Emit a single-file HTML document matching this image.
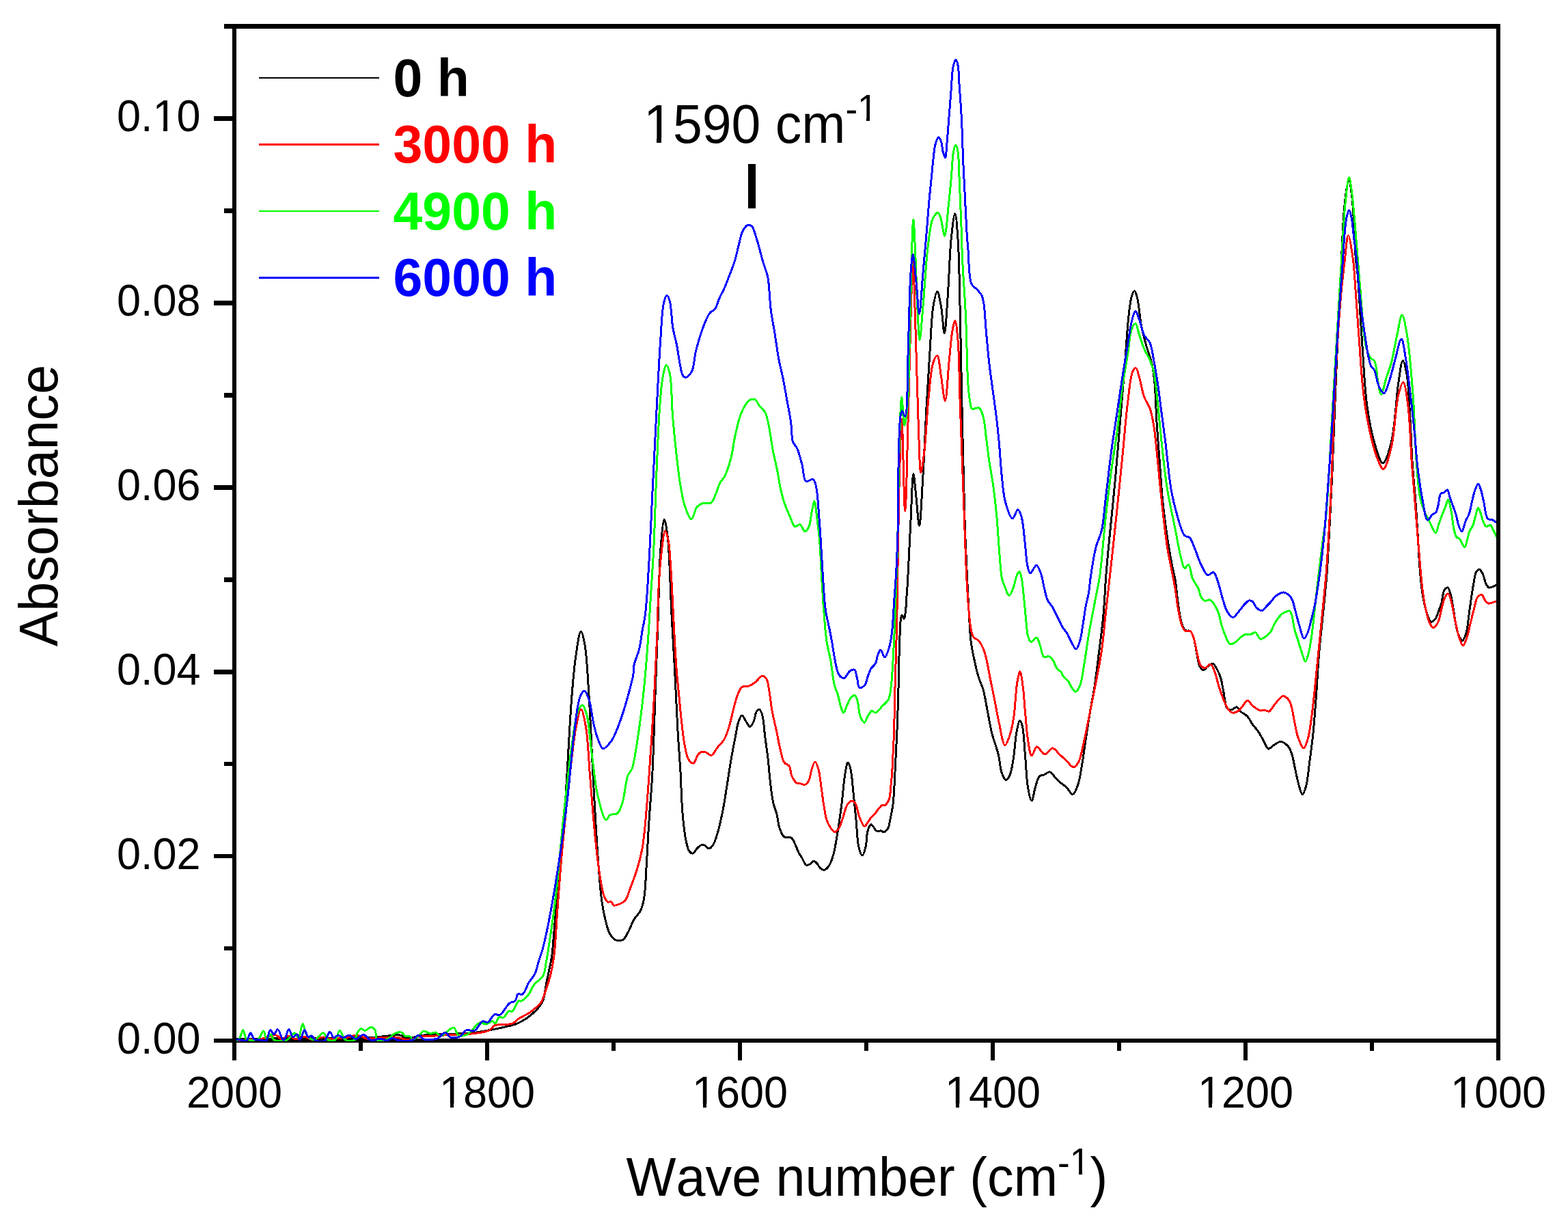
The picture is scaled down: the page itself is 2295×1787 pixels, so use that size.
<!DOCTYPE html>
<html><head><meta charset="utf-8"><title>FTIR Absorbance Spectra</title>
<style>html,body{margin:0;padding:0;background:#fff;}body{width:2295px;height:1787px;overflow:hidden;}svg{display:block;}text{font-family:'Liberation Sans', Arial, Helvetica, sans-serif;font-kerning:none;}</style>
</head><body>
<svg width="2295" height="1787" viewBox="0 0 2295 1787">
<rect x="0" y="0" width="2295" height="1787" fill="#fff"/>
<defs><clipPath id="pc"><rect x="346" y="42" width="1844" height="1482"/></clipPath></defs>
<g fill="#000" shape-rendering="crispEdges"><rect x="340" y="35" width="6" height="1491"/><rect x="2190" y="35" width="6" height="1491"/><rect x="328" y="35" width="1868" height="7"/><rect x="340" y="1520" width="1856" height="6"/><rect x="313" y="1519.8" width="27" height="6.5"/><rect x="328" y="1384.8" width="12" height="6.5"/><rect x="313" y="1249.8" width="27" height="6.5"/><rect x="328" y="1114.9" width="12" height="6.5"/><rect x="313" y="980" width="27" height="6.5"/><rect x="328" y="845" width="12" height="6.5"/><rect x="313" y="710.1" width="27" height="6.5"/><rect x="328" y="575.1" width="12" height="6.5"/><rect x="313" y="440.2" width="27" height="6.5"/><rect x="328" y="305.2" width="12" height="6.5"/><rect x="313" y="170.2" width="27" height="6.5"/><rect x="328" y="35.3" width="12" height="6.5"/><rect x="340" y="1526" width="6" height="26"/><rect x="525" y="1526" width="6" height="12"/><rect x="710" y="1526" width="6" height="26"/><rect x="895" y="1526" width="6" height="12"/><rect x="1080" y="1526" width="6" height="26"/><rect x="1265" y="1526" width="6" height="12"/><rect x="1450" y="1526" width="6" height="26"/><rect x="1635" y="1526" width="6" height="12"/><rect x="1820" y="1526" width="6" height="26"/><rect x="2005" y="1526" width="6" height="12"/><rect x="2190" y="1526" width="6" height="26"/></g>
<g font-size="63" fill="#000"><text id="yl0" transform="matrix(1 0 0 1.04 293.6 1541.8)" text-anchor="end">0.00</text><text id="yl2" transform="matrix(1 0 0 1.04 293.6 1271.9)" text-anchor="end">0.02</text><text id="yl4" transform="matrix(1 0 0 1.04 293.6 1002)" text-anchor="end">0.04</text><text id="yl6" transform="matrix(1 0 0 1.04 293.6 732.1)" text-anchor="end">0.06</text><text id="yl8" transform="matrix(1 0 0 1.04 293.6 462.2)" text-anchor="end">0.08</text><text id="yl10" transform="matrix(1 0 0 1.04 293.6 192.3)" text-anchor="end">0.10</text><text id="xl2000" transform="matrix(1 0 0 1.04 343 1621.2)" text-anchor="middle">2000</text><text id="xl1800" transform="matrix(1 0 0 1.04 713 1621.2)" text-anchor="middle">1800</text><text id="xl1600" transform="matrix(1 0 0 1.04 1083 1621.2)" text-anchor="middle">1600</text><text id="xl1400" transform="matrix(1 0 0 1.04 1453 1621.2)" text-anchor="middle">1400</text><text id="xl1200" transform="matrix(1 0 0 1.04 1823 1621.2)" text-anchor="middle">1200</text><text id="xl1000" transform="matrix(1 0 0 1.04 2193 1621.2)" text-anchor="middle">1000</text></g>
<text id="xt" transform="matrix(1.0043 0 0 1.04 916.5 1750)" font-size="77" fill="#000">Wave number (cm<tspan font-size="53" dy="-28.0769">-</tspan><tspan font-size="53" dy="-1.7308">1</tspan><tspan dy="29.8077">)</tspan></text>
<text id="yt" transform="translate(84.1 740) rotate(-90) scale(1.004 1.04)" text-anchor="middle" font-size="77" fill="#000">Absorbance</text>
<g clip-path="url(#pc)" fill="none" stroke-width="3" stroke-linejoin="round" stroke-linecap="round" shape-rendering="crispEdges"><path d="M346 1521C364 1520.7 382.3 1520.2 400 1520C417 1519.8 435.5 1520.2 450 1520C461.3 1519.9 468 1519.6 480 1519.3C498.2 1518.9 529.2 1518.9 548.7 1518C563.2 1517.3 579.1 1513.4 586.5 1515.2C589.9 1516 590.1 1518.7 593.3 1519.3C599.7 1520.6 615.6 1515.4 624.2 1514.5C630.3 1513.8 633.9 1513.7 640 1513.5C648.4 1513.2 661 1513.3 670 1513C677.3 1512.8 682.7 1512.8 690 1512C699 1511 711.2 1508.7 720 1507C727.1 1505.7 732.8 1504.5 739 1503C745.1 1501.5 750.9 1500.7 757 1498C764.2 1494.8 772.7 1489.5 779 1484C784.9 1478.8 790.6 1473 794 1466C797.6 1458.5 797.8 1448.3 799.5 1440C801.1 1432.4 802.6 1425 804 1418C805.3 1411.7 806.5 1407.8 807.6 1400C809.6 1385.9 811 1359.8 813 1340C815 1320.5 817.3 1304.7 819.4 1282C822.4 1249.7 825.2 1206 828 1164.7C831.1 1118.4 833.9 1055.6 837 1017.6C839 993.6 840.4 975.8 843 958.8C845 945.6 847.8 924.1 850.3 924C852.2 923.9 854.4 935.1 856 944C859 960.7 860.2 990.2 862 1017.6C864.3 1052.2 865.8 1095.8 868 1135C870.2 1174.3 872.5 1219.2 875 1253C876.9 1278.5 878.4 1302.1 881 1320C882.7 1332 884.8 1341.7 887 1350C888.6 1356.1 889.6 1361.1 892 1365.5C894 1369.3 896.9 1373.3 899.7 1375C901.7 1376.3 903.9 1376.5 906 1376.5C908.1 1376.5 910.3 1376.4 912.3 1375C915.2 1372.9 917.6 1367.4 920 1363C922.7 1358 924.5 1351.6 927.5 1346.5C930.4 1341.5 935.1 1337.8 937.6 1332.6C940.2 1327.3 941.3 1322.5 942.6 1315C944.8 1302.5 945.2 1281.9 946.4 1264C947.7 1244.1 948.6 1222.2 950 1201C951.4 1179.3 953.3 1160.2 954.7 1135C956.5 1101.5 957.6 1055.9 959 1017.6C960.4 981 961.7 945.9 963 910C964.3 874.1 964.7 830 967 802.4C968.4 785.1 970.5 760.4 972.4 760.3C974 760.3 976 775.3 977.4 787.6C980.3 812.3 981.2 867 983 900C984.4 926.1 985.8 947.6 987 970C988.1 990.8 989.1 1012 990 1030C990.7 1044.7 991.3 1057.6 992 1070C992.6 1080.7 993.3 1090 994 1100C994.7 1110 995.3 1118.3 996 1130C997 1146.6 997.4 1172 999 1190C1000.3 1204.7 1001.8 1219.7 1004 1230C1005.4 1236.6 1006.6 1243 1009 1246C1010.4 1247.8 1012.4 1249.3 1014 1249C1016.1 1248.7 1017.9 1244.1 1020 1242C1021.9 1240.1 1024 1237.7 1026 1237C1027.6 1236.4 1029.3 1236.5 1031 1237C1033.2 1237.7 1035.8 1242.2 1038 1242C1040.2 1241.8 1042.2 1238.7 1044 1236C1046.5 1232.1 1048.1 1226.4 1050 1220C1052.8 1210.8 1055.7 1197.5 1058 1186C1060.4 1174.2 1062 1162.2 1064 1150C1066 1137.5 1067.9 1124.1 1070 1112C1071.9 1100.9 1074 1089.9 1076 1080C1077.7 1071.4 1078.8 1062 1081 1056C1082.4 1052.1 1084.2 1047.1 1086 1047C1087.9 1046.9 1089.9 1053.2 1092 1056C1093.9 1058.7 1096.1 1063.7 1098 1063.6C1099.8 1063.5 1101.6 1059 1103 1056C1104.8 1052.1 1105.3 1045.1 1107 1042C1108.1 1040.1 1109.4 1037.9 1110.6 1038C1112 1038.1 1113.8 1040.9 1115 1044C1117.8 1050.8 1118.4 1068.5 1120 1080C1121.4 1090.5 1122.7 1099.3 1124 1110C1125.4 1122.4 1126.5 1138.1 1128 1150C1129.2 1159.6 1130.2 1168.4 1132 1176C1133.4 1182 1135.6 1186.3 1137 1192C1138.6 1198.3 1138.9 1206.2 1141 1212C1142.8 1216.9 1144.7 1222.8 1148 1225C1150.7 1226.8 1155.4 1224.3 1158 1226C1160.8 1227.8 1162.2 1232.4 1164 1236C1165.9 1239.8 1167.2 1244.5 1169 1248C1170.6 1251 1172.3 1253.2 1174 1256C1175.9 1259.1 1177.7 1265 1180 1266C1181.5 1266.7 1183.4 1265.8 1185 1265C1187 1264 1189.1 1260 1191 1260C1192.7 1260 1194.4 1262.4 1196 1264C1197.8 1265.9 1199 1269.5 1201 1271C1202.7 1272.3 1205.1 1273.5 1207 1273C1209.4 1272.4 1212 1269.1 1214 1266C1216.6 1262 1218.2 1256.3 1220 1250C1222.4 1241.2 1224.1 1229.4 1226 1218C1228.2 1205 1230.2 1190.2 1232 1176C1233.9 1161.5 1235 1143 1237 1132C1238.2 1125.3 1239.5 1116.1 1241 1116C1242.2 1115.9 1243.9 1121.6 1245 1126C1247 1133.9 1247.7 1148.2 1249 1160C1250.4 1172.8 1251.7 1186.7 1253 1200C1254.3 1213.3 1254.6 1230.7 1257 1240C1258.3 1245.3 1260.3 1252 1262 1252C1263.6 1252 1265.7 1244.7 1266.9 1240C1268.5 1234 1268.2 1224.3 1269.5 1218.7C1270.4 1214.8 1271.4 1211.3 1272.7 1209.2C1273.5 1207.9 1274.4 1206.6 1275.3 1206.6C1276.3 1206.6 1277.4 1208.9 1278.5 1210.3C1279.9 1212 1280.9 1215.1 1282.8 1216C1284.6 1216.9 1287.6 1215.6 1289.6 1216C1291.2 1216.3 1292.4 1218 1293.9 1217.7C1295.9 1217.3 1298.8 1213.8 1300.2 1211.3C1301.6 1208.8 1301.6 1205.9 1302.3 1202.9C1303 1199.6 1303.7 1196.2 1304.4 1192.3C1305.3 1187.5 1306.4 1182.1 1307.1 1176.4C1307.9 1169.9 1308.2 1163 1308.7 1155.2C1309.3 1145.7 1309.8 1134.1 1310.3 1123.5C1310.8 1112.9 1311.4 1102.3 1311.9 1091.7C1312.4 1081.1 1312.9 1072.4 1313.4 1060C1314.1 1042.6 1314.7 1017.7 1315.3 997C1315.8 977 1315.9 955.1 1316.7 938C1317.3 924.8 1317.5 907.7 1319 903C1319.4 901.7 1319.9 900.7 1320.4 900.7C1321.2 900.7 1322.5 905.9 1323.3 905.8C1324.4 905.6 1324.9 898.6 1325.5 894C1326.3 887.8 1326.5 878.9 1327 872C1327.4 866 1327.8 863 1328.3 855C1329.5 836.3 1331.5 789.7 1333 761C1334.3 736.7 1335.2 693.7 1336.9 693.6C1338.1 693.6 1339.6 716 1341 728C1342.5 741.2 1344.1 769.4 1345.5 769.4C1347.4 769.4 1349.3 721.6 1351 695C1352.9 664.5 1354.3 627.8 1356 596.4C1357.6 567.7 1359.2 539.9 1361 514C1362.6 490.8 1363.3 463.8 1366 448C1367.6 438.9 1369.9 426.8 1371.8 426.8C1373.7 426.8 1375.8 439.8 1377.4 448C1379.5 459.1 1380.8 487.7 1382.3 487.7C1384.1 487.7 1385.8 452.2 1387.3 431.8C1389.1 407 1389.9 371.4 1392.2 349.4C1393.8 334.6 1396.2 312.5 1397.8 312.5C1399.4 312.5 1400.9 333.7 1402 349.4C1404 377.1 1404.4 422.8 1405.4 464.7C1406.6 514.7 1407.5 577.6 1408.7 629.4C1409.7 675.7 1410.6 720.8 1412 761C1413.1 795 1414.7 828 1416 855C1417 875.4 1417.9 893.6 1418.9 908.8C1419.6 920 1419.8 928.3 1421 938C1422.2 947.7 1424.3 957.7 1426.3 967C1428.2 975.8 1430.3 984.8 1432.7 992.3C1434.6 998.5 1437.1 1002.4 1439 1009C1441.5 1017.9 1443.3 1030.4 1445.4 1041C1447.5 1051.6 1449.1 1062.2 1451.7 1072.7C1454.4 1083.3 1458.8 1094.1 1461.3 1104.4C1463.6 1113.9 1463.9 1125.4 1466.5 1132C1468.1 1136.2 1470.5 1141.4 1472.5 1141.5C1474.4 1141.6 1476.6 1137.5 1478.2 1134C1480.8 1128.2 1482 1117.9 1483.5 1108.7C1485.3 1097.8 1485.8 1082.6 1487.7 1072.7C1489.1 1065.6 1490.9 1054.9 1492.6 1054.7C1493.8 1054.6 1495.2 1058.4 1496.2 1062C1498.5 1070.2 1499 1089.8 1500.4 1104.4C1501.9 1120 1502.3 1140.6 1504.6 1153C1506 1160.9 1508.2 1172 1510 1172C1511.8 1172 1513.2 1159.1 1515.2 1153C1517.1 1147.1 1518.5 1138.8 1521.5 1136C1523.3 1134.3 1525.7 1134.9 1528 1134C1530.7 1132.9 1533.7 1129.4 1536.4 1129.8C1539.4 1130.3 1542.2 1135.7 1544.8 1138.3C1547 1140.6 1548.6 1142.5 1551 1144.6C1553.8 1147.1 1557.6 1149.1 1560.7 1152C1564 1155.1 1567.4 1162.9 1570.2 1162.6C1573.1 1162.3 1575.6 1154.4 1577.6 1149C1580.2 1142 1581.3 1133 1583 1123.5C1585.1 1111.6 1586.9 1096.9 1589 1083.3C1591.1 1069.4 1593.3 1054.5 1595.6 1041C1597.7 1028.5 1600 1017.9 1602 1005C1604.3 990 1606.2 973.1 1608.3 956.4C1610.5 938.8 1613 920.7 1614.8 902C1616.7 882 1617.4 859.9 1619 840C1620.5 821.6 1622 806.5 1623.9 786.7C1626.3 761.7 1629.7 730.2 1632.3 702C1634.9 673.8 1637.1 645.7 1639.4 617.5C1641.8 589.3 1644.2 559.7 1646.4 532.8C1648.4 508.2 1649.9 480.5 1652 462.3C1653.3 450.7 1654.2 440.5 1656.3 434C1657.5 430.3 1659.2 425.5 1660.5 425.6C1662 425.7 1663.5 432 1664.8 437C1667.1 446.1 1668.1 464.4 1670.4 476.4C1672.4 486.6 1674.8 495.2 1677.4 504.6C1680 514 1683.9 523.3 1686 532.8C1688.1 542.1 1688.9 550 1690 561C1691.5 576.6 1691.8 598.7 1693 617.5C1694.2 636.3 1695.8 655.2 1697.2 674C1698.6 692.8 1699.5 711.5 1701.4 730.3C1703.3 749.1 1705.9 769.2 1708.5 786.7C1710.8 802.1 1713.8 818.7 1716 830C1717.4 837.3 1718.8 841 1720 848C1721.6 857.6 1722.5 871.3 1724.2 882.3C1725.7 892.6 1727.1 904.7 1729.5 912C1731 916.5 1732.3 920.7 1734.8 922.5C1736.8 923.9 1740.2 922.1 1742.2 923.6C1744.8 925.5 1746 930.7 1747.5 935.2C1749.4 941.1 1750.2 949.5 1751.7 956.4C1753.1 962.9 1753.7 971.2 1756 975.4C1757.4 978 1759.4 980.6 1761.3 980.7C1763.3 980.8 1765.3 977 1767.6 975.4C1769.9 973.8 1772.8 970.7 1775 971.2C1777.5 971.7 1779.5 976.5 1781.4 979.7C1783.5 983.4 1785.2 987.5 1786.7 992.4C1788.6 998.5 1789.5 1006.3 1791 1013.5C1792.6 1021.1 1793 1033.2 1796.2 1036.8C1797.9 1038.7 1800.4 1039.2 1802.5 1039C1804.9 1038.8 1807.9 1034.3 1810 1034.7C1812.1 1035.1 1813 1039 1815.2 1041C1818 1043.6 1822.8 1045.4 1825.8 1048.5C1828.9 1051.7 1830.5 1056.3 1833.2 1060C1835.8 1063.7 1839.1 1066.9 1841.7 1070.7C1844.4 1074.7 1846.6 1079.2 1849.1 1083.4C1851.6 1087.6 1853.6 1095.4 1856.5 1096C1858.8 1096.5 1861.2 1092.5 1864 1090.8C1867.1 1088.9 1871 1085.4 1874.5 1085.5C1878 1085.6 1882.3 1089 1885 1091.8C1887.6 1094.6 1888.8 1098.1 1890.4 1102.4C1892.6 1108.5 1893.9 1117.9 1895.7 1125.7C1897.5 1133.5 1899 1142.3 1901 1149C1902.6 1154.3 1904.4 1162.7 1906.2 1162.8C1907.9 1162.9 1910 1156.1 1911.5 1151C1914 1142.4 1915.1 1127.5 1916.8 1115C1918.6 1101.5 1920.5 1087.7 1922 1072.8C1923.7 1056.2 1924.9 1038.4 1926.3 1020C1927.8 999.8 1928.9 976.6 1930.6 956.4C1932.1 937.9 1934.1 921.9 1935.9 903.5C1937.9 883.3 1940.3 861.7 1942 840C1943.7 817.3 1944.7 794.1 1946 770C1947.4 744.2 1948.6 720.8 1950 690C1951.9 647.8 1953.8 590 1956 540C1958.2 490 1960.8 433.6 1963 390C1964.7 356.2 1965.4 323.2 1968 300C1969.7 285.2 1972.2 264 1974.2 264C1975.9 264 1977.6 278.7 1979 290C1981.6 310.9 1982.7 360.5 1984.5 380C1985.4 389.5 1986.1 391.3 1987 401C1989 422.7 1991.6 473.1 1994 506.7C1996.2 537.4 1997.4 569.2 2001 594.8C2003.8 614.8 2007.1 632.8 2011.6 647.7C2015.1 659.3 2019.9 677.6 2024 677.6C2028.1 677.6 2032.9 660.6 2036.3 647.7C2041.9 626.3 2043.4 581.6 2046.9 559.6C2049 546.3 2050.9 527.9 2053.2 527.8C2055.1 527.7 2057.6 540.2 2059.2 549C2061.7 563.1 2062.2 585 2063.5 605C2065 628.2 2065.8 657.2 2067.3 680C2068.6 699.2 2070.5 715.3 2071.8 733C2073.1 750.6 2074.2 769 2075.3 785.8C2076.3 801.2 2076.8 816.1 2077.9 830C2078.9 842.4 2079.9 854.3 2081.5 865.2C2082.9 874.7 2084.2 883.8 2086.7 891.7C2088.8 898.5 2091.6 909.3 2094.7 910.2C2096.6 910.7 2099.2 907.9 2100.9 905.8C2103 903.2 2103.9 898.9 2105.3 895.2C2106.8 891.3 2108.4 887.5 2109.7 882.9C2111.4 877.2 2111.7 867.2 2114.1 863.5C2115.4 861.5 2117.6 859.6 2119 860C2120.7 860.5 2121.7 865 2122.9 868.7C2124.7 874.5 2125.9 883.8 2127.3 891.7C2128.8 900.2 2129.9 910.7 2131.7 918.1C2133 923.6 2134.2 928.8 2136.1 932.2C2137.4 934.6 2139.1 937.7 2140.5 937.5C2142.4 937.3 2144.3 931.7 2145.8 927C2148.4 918.8 2149.3 903.5 2151.1 891.7C2152.9 879.9 2154.5 866.4 2156.4 856.4C2157.8 848.9 2158.5 840.7 2160.8 837C2162 835 2163.8 833.3 2165.2 833.5C2167 833.7 2169 837.6 2170.5 840.5C2172.4 844.3 2173.1 851.1 2175 854.6C2176.3 857 2177.3 859.4 2179.4 860C2182.3 860.8 2187.8 857 2192 855.5" stroke="#000000"/><path d="M346 1522C350.7 1522 354.9 1522.1 360 1522C366.1 1521.8 373.1 1522 380 1521C387.7 1519.9 398.2 1513.9 403.9 1515C407.5 1515.7 409 1520.7 412 1521C415.3 1521.3 419.4 1515.9 423 1516C426.4 1516.1 429.4 1520.7 433 1521C436.9 1521.3 441.9 1516.8 445.8 1517C449.2 1517.2 451.3 1520.5 455 1521C460.1 1521.7 469.5 1517.4 474 1518C476.6 1518.4 477.4 1520.3 480 1520.7C484.2 1521.4 491.9 1519.8 497.2 1519.3C501.8 1518.9 506 1518.8 510 1518C513.5 1517.3 516.5 1515.3 519.8 1515.2C523.2 1515.1 527 1516.4 530 1517.3C532.4 1518.1 533.8 1519.6 536.3 1520C539.7 1520.6 543.5 1519.5 548.7 1519.3C557.3 1519 574.2 1517.7 583 1518.7C588.7 1519.3 592 1522.1 596.8 1522C602.2 1521.9 608.3 1518.2 614 1517.3C619.4 1516.5 624.4 1516.9 630 1516.6C636.3 1516.2 642.7 1515.4 650 1515C658.9 1514.5 669.2 1515 679.5 1514C691.1 1512.9 708.7 1511.6 716 1508C719.8 1506.1 719.9 1502.7 723.5 1501C729.4 1498.3 743.7 1500.6 750 1498C754.1 1496.3 755.4 1493.4 759 1491C763.6 1487.9 770.4 1485.4 775.7 1481.6C781.4 1477.5 788.2 1472.6 792 1467C795.5 1461.8 796.4 1455.9 798.6 1449.6C801.1 1442.4 804 1434.3 806 1426C808.2 1417.1 809.6 1409.4 811 1398C813.2 1380.3 814.2 1353.4 816 1330C817.9 1305.1 819.5 1281.4 822 1253C825.2 1217.8 830.1 1169.2 834 1135C837 1108.5 839.5 1082.5 843 1064.7C845.2 1053.6 847.9 1038 850.3 1038C852.7 1038 855.6 1053.6 857.6 1064.7C860.7 1082.5 861.4 1110.2 863.5 1135C865.8 1162.8 868.3 1197.1 871 1223.5C873.2 1245 875.3 1265.8 878 1282C879.9 1293.7 881.7 1305.3 884.4 1312C885.9 1315.7 887.4 1318.9 889.5 1320C891 1320.8 893.2 1319.3 894.6 1320C896.2 1320.8 896.6 1324.4 898.4 1325C900.5 1325.8 904.3 1324.1 907 1323C909.8 1321.8 912.7 1320.7 915 1318C918.3 1314.1 919.9 1306.7 922.5 1300C925.7 1291.7 929.6 1281.6 932.5 1272C935.5 1262.2 938.1 1251.8 940 1242C941.7 1232.8 942.3 1226.4 943.5 1215C945.6 1195.4 947.9 1164.2 950 1135C952.6 1099.6 955.5 1054.4 957.6 1017.6C959.4 984.9 960.9 953 962 925C962.9 901.7 962.9 881.1 964 861C965 843 966.1 825.1 968 810C969.5 797.9 971.3 777.6 973.5 777.4C974.9 777.3 976.8 784.5 978 790C980.2 799.8 980.6 815.7 981.8 831.8C983.4 853.8 984.6 884.8 986 910C987.3 933.5 988.5 958.1 990 978C991.2 993.7 992.7 1006.2 994 1020C995.3 1033.5 996.6 1047.6 998 1060C999.3 1070.7 1000.1 1080.8 1002 1090C1003.6 1098 1004.9 1107.5 1008 1112C1009.9 1114.7 1012.9 1117.5 1015 1117C1017.7 1116.4 1019.5 1106.8 1022 1104C1023.6 1102.2 1025.2 1100.9 1027 1100.4C1028.8 1099.9 1030.9 1100.3 1033 1101C1035.6 1101.8 1038.5 1106.1 1041 1105.6C1044.2 1105 1046.9 1097.9 1050 1094C1053.2 1090 1057.3 1086.7 1060 1082C1063.1 1076.8 1064.9 1070.7 1067 1064C1069.6 1055.8 1071.7 1044.5 1074 1036C1076 1028.7 1077.6 1021.5 1080 1016C1081.8 1011.8 1083.2 1007.6 1086 1005.6C1088.6 1003.8 1092.8 1005.1 1096 1004C1099.2 1002.9 1102 1001.2 1105 999C1108.6 996.4 1112.9 989.1 1116 989C1118.3 989 1120.4 991.5 1122 994C1124.4 997.9 1124.8 1005.3 1126 1012C1127.5 1020.3 1128.3 1030.4 1130 1040C1131.9 1050.3 1135 1062.6 1137 1072C1138.6 1079.4 1139.3 1085.1 1141 1092C1142.9 1099.7 1144.6 1111.3 1148 1116C1150 1118.8 1153.2 1118.5 1155 1121C1157.4 1124.4 1157 1131.7 1159 1136C1160.8 1139.9 1163.4 1144.3 1166 1146C1167.9 1147.2 1170 1146.6 1172 1147C1174 1147.4 1176.2 1149.1 1178 1148.6C1180.2 1147.9 1182.4 1144.9 1184 1142C1186.1 1138 1186.3 1130.8 1188 1126C1189.4 1121.9 1191.3 1115 1193 1115C1194.7 1115 1196.6 1121.4 1198 1126C1200 1132.7 1200.7 1143.2 1202 1152C1203.4 1161.2 1204.5 1171.5 1206 1180C1207.2 1187.2 1208 1194.3 1210 1200C1211.6 1204.6 1213.7 1208.8 1216 1212C1217.8 1214.5 1220 1218 1222 1218C1224 1218 1226.2 1214.7 1228 1212C1230.5 1208.1 1232 1201.5 1234 1196C1236.1 1190.2 1237.2 1182.2 1240 1178C1241.9 1175.1 1244.8 1172 1247 1172C1248.8 1172 1250.5 1173.8 1252 1176C1254.6 1179.9 1255.5 1190.1 1258 1196C1260.1 1201 1262.9 1209 1265.3 1209.2C1267.1 1209.4 1268.9 1205.1 1270.6 1202.9C1272.4 1200.5 1274 1197.6 1275.9 1195.4C1277.6 1193.4 1279.5 1192.2 1281.2 1190.2C1283.1 1188 1284.7 1184.9 1286.5 1182.8C1288 1181.1 1289.5 1179.1 1291.2 1178.5C1292.5 1178 1294.1 1179.1 1295.4 1178.5C1297.2 1177.6 1299 1174.4 1300.2 1172.2C1301.3 1170.2 1301.7 1168.4 1302.3 1165.8C1303.2 1161.7 1303.4 1155.3 1303.9 1150C1304.4 1144.7 1305.1 1139.7 1305.5 1134C1306 1127.5 1306.3 1120 1306.6 1113C1307 1105.9 1307.2 1098.8 1307.6 1091.7C1307.9 1084.6 1308.4 1078.9 1308.7 1070.6C1309.1 1058.5 1309 1042.7 1309.4 1026C1309.9 1004.6 1311 976 1311.6 952.9C1312.2 932.2 1312.6 915.9 1313 894C1313.5 866.3 1313.9 832.2 1314.5 800C1315.1 766 1315.5 727.8 1316.5 695C1317.4 666 1318.6 613 1319.8 613C1321.3 613 1323.1 748 1324.7 748C1326.4 748 1328.2 645.2 1329.6 596.4C1330.9 551 1331.7 503.5 1333 464.7C1334 434 1335.1 382.3 1336.2 382.3C1337.3 382.3 1338.4 432.5 1339.5 464.7C1341.1 510.2 1342.8 587.5 1344.5 629.4C1345.6 655.2 1346 691.9 1347.8 692C1349.1 692.1 1351.2 674.7 1352.7 662.3C1355.2 641.7 1356.7 603.9 1359.3 580C1361.3 561.4 1362.4 540.6 1365.9 530.6C1367.6 525.8 1370.1 520.4 1371.8 520.7C1374.5 521.2 1375.6 539.9 1377.4 550.3C1379.4 561.8 1381.5 586.7 1383.3 586.6C1385.5 586.5 1387.2 548.4 1389 530.6C1390.7 514.5 1391.9 495.6 1393.9 484.5C1395.1 478.1 1396.6 469.5 1397.8 469.6C1399.4 469.7 1400.9 485.4 1402 497.6C1404.1 520.4 1404.1 561.1 1405.4 596.4C1406.9 637.1 1408.7 685 1410.3 728C1411.9 769.4 1413.4 819.5 1415 850C1416 868.3 1416.8 881.2 1418 894C1418.9 904 1419.5 913.5 1421 920.5C1422 925.3 1422.5 929.3 1424.7 932.3C1426.6 935 1430.5 935.4 1432.8 938C1435.5 941 1437.6 945.8 1439.4 950C1441.1 954.1 1442 957.5 1443.3 962.7C1445.4 970.9 1447.5 983.8 1449.6 994.4C1451.7 1004.9 1453.9 1015.4 1456 1026C1458.1 1036.6 1459.9 1047.3 1462.3 1058C1464.8 1068.9 1467.7 1090.3 1470.8 1090.7C1472.8 1090.9 1475.2 1083.9 1477 1079C1479.7 1071.9 1481.7 1062.2 1483.5 1051.5C1486 1036.8 1486.6 1011.1 1488.8 998.7C1490.1 991.8 1491.7 982.8 1493 982.8C1494.5 982.9 1496 996.7 1497.2 1005C1498.7 1015.5 1499.2 1028.5 1500.4 1041C1501.7 1054.5 1502.6 1071.4 1504.6 1083.3C1506.1 1092.1 1507.4 1105.6 1510 1106C1512.1 1106.3 1514.6 1093.2 1517.7 1092.8C1520.9 1092.4 1525.1 1103.8 1529 1104C1532.7 1104.2 1536.9 1094.9 1540.6 1095C1544.2 1095.1 1547.6 1101.3 1551 1104.4C1554.3 1107.3 1557.4 1110 1560.7 1113C1564.2 1116.2 1568.1 1123.1 1571.3 1123C1574 1122.9 1576.6 1118.9 1578.7 1115C1582.4 1108.2 1584.4 1094.7 1587 1083.3C1590 1070.3 1592.8 1055.1 1595.6 1041C1598.4 1026.9 1601.2 1013.2 1604 998.7C1606.9 983.5 1610.1 968.3 1612.5 952C1615.1 934.2 1616.3 915.8 1618.5 896C1620.9 873.7 1623.8 849.4 1626.5 825C1629.4 799 1632.3 771.6 1635.1 744.4C1638 716.5 1640.9 686.7 1643.6 659.8C1646.1 635.2 1647.9 610.2 1650.6 589.3C1652.7 572.5 1654.2 551.6 1657.7 544C1659.1 541 1661.1 538.2 1662.5 538.5C1664.5 538.9 1665.9 547 1667.6 552.6C1670 560.3 1671.6 572.7 1674.6 580.8C1677 587.3 1680.8 591.3 1683.1 597.7C1685.7 605.1 1687 613.1 1688.7 623C1691 637 1692.6 656.6 1694.4 674C1696.3 692.3 1697.8 710.5 1700 730.3C1702.4 752.5 1705.5 781.5 1708.5 800.8C1710.6 814.3 1713 824.4 1715 835C1716.8 844.3 1718.5 852.2 1720 861.2C1721.6 870.6 1722.5 880.9 1724.2 890C1725.7 898.4 1727.2 907.9 1729.5 914C1731 918.1 1732.4 922.2 1734.8 923.6C1736.8 924.8 1740.2 922.3 1742.2 923.6C1744.8 925.3 1746 930.8 1747.5 935.2C1749.3 940.7 1750.1 948 1751.7 954.3C1753.3 960.7 1754.2 969.5 1757 973.3C1758.7 975.7 1761.1 977.6 1763.4 977.6C1766 977.6 1769.5 971.7 1771.9 972.3C1774.6 973 1776.4 979.5 1778.2 984C1780.4 989.5 1781.5 996.5 1783.5 1003C1785.7 1009.9 1788.2 1017.7 1790.9 1024C1793.2 1029.5 1795.4 1035.7 1798.3 1039C1800.2 1041.2 1802.4 1042.9 1804.7 1043.2C1807.2 1043.5 1810.7 1041.7 1813.1 1040C1815.6 1038.2 1817.4 1035.1 1819.5 1032.6C1821.6 1030.1 1823.6 1025.3 1825.8 1025.2C1828.1 1025.1 1830.3 1030.3 1833.2 1032.6C1836.5 1035.3 1841.7 1039.4 1844.9 1040C1846.9 1040.4 1848.3 1038.9 1850.2 1039C1852.5 1039.1 1855.3 1041.8 1857.6 1041C1860.7 1040 1862.9 1034 1866 1030.5C1869.5 1026.6 1874 1019.2 1877.7 1018.8C1880.6 1018.5 1884 1021.6 1886.1 1024.1C1888.3 1026.8 1889.1 1030.5 1890.4 1034.7C1892.1 1040.5 1893.1 1048.7 1894.6 1055.9C1896.2 1063.5 1897.4 1072.3 1899.9 1079.2C1902.1 1085.1 1905.6 1095 1908 1095C1910.1 1095 1912.2 1088 1913.7 1083.4C1915.7 1077.5 1916.6 1070.5 1917.9 1062.2C1919.8 1050.6 1921.5 1034.9 1923.2 1020C1925.1 1003.3 1926.7 984.7 1928.5 967C1930.3 949.3 1931.9 933.1 1933.8 914C1936 891.4 1938.8 867.8 1941 840C1943.8 804.4 1946 762.4 1948.2 718C1950.8 664.7 1952.5 593.2 1955.2 542C1957.3 502.3 1959.7 465.9 1962.3 436.2C1964.2 414.5 1966.3 396.6 1968.4 380C1970 366.8 1971.4 344.7 1973.4 344.6C1975.4 344.5 1978.8 368.6 1980.4 380C1981.9 390.4 1982 397.6 1983 410C1984.6 430.1 1986.6 461.9 1988.7 489C1990.9 517.6 1992.6 551.6 1995.8 577.2C1998.3 597.1 2001.1 613.8 2004.6 630C2007.7 644 2011.1 658.6 2015.2 668.8C2018.1 676 2021.6 686.6 2024.7 686.4C2028.7 686.1 2033 667.8 2036.3 654.7C2041.3 634.7 2042.6 593.7 2046.9 577.2C2049 569.1 2051.8 559.4 2053.9 559.6C2056.8 559.9 2059.1 580.4 2061 594.8C2063.9 616.9 2064.7 655 2066.5 680C2068 699.8 2069.5 716.2 2070.9 733C2072.1 748.3 2073.2 762.3 2074.4 777C2075.6 791.7 2076.7 806.3 2078 821C2079.3 835.7 2080.5 851.9 2082.3 865.2C2083.8 876.2 2085.5 886.6 2087.6 895.2C2089.2 901.9 2090.7 908.6 2093 912.8C2094.5 915.6 2096.4 919.1 2098.2 919C2100.4 918.9 2103.5 913.2 2105.3 909.3C2107.6 904.5 2108.1 897.6 2109.7 891.7C2111.3 885.8 2112.8 878 2115 874C2116.4 871.5 2118.3 868.4 2119.7 868.7C2121.7 869.1 2123.2 877.4 2124.7 882.9C2126.7 890.3 2128.1 900.7 2130 909.3C2131.9 917.7 2133.7 927.6 2136.1 934C2137.7 938.4 2139.6 944.6 2141.4 944.6C2143.2 944.6 2145.1 938.2 2146.7 934C2148.8 928.2 2150.2 919.9 2152 912.8C2153.8 905.8 2155.5 898.4 2157.3 891.7C2159 885.5 2159.9 877.4 2162.6 874C2164.3 871.9 2167 870 2168.8 870.5C2171 871.1 2172.2 877.1 2174.1 879.3C2175.5 880.9 2176.5 882.6 2178.5 883C2181.7 883.7 2187.5 880.5 2192 879.3" stroke="#ff0000"/><path d="M346 1523C347.3 1522.3 348.8 1522.3 350 1521C352.2 1518.6 354 1507.7 355.8 1507.7C357.6 1507.7 358.1 1518.8 361 1521C363.3 1522.8 367.1 1522 370 1522C372.7 1522 375.7 1522.5 378 1521C381.1 1519 383.7 1508.5 385.7 1508.7C387.6 1508.9 388 1520.6 390 1521C391.7 1521.3 394.5 1513.6 396.3 1513.8C398.1 1514 398.2 1520.4 401 1522C404.9 1524.3 414.8 1524 420 1522C424.7 1520.2 428.3 1511.5 431.3 1511.8C433.6 1512 435.3 1519.3 437 1519C439.5 1518.5 440.9 1498.8 443 1498.7C444.9 1498.6 445.8 1511 449 1515C451.8 1518.4 456.2 1522.2 460 1522C464.3 1521.8 469.7 1511.2 473.2 1511.8C476.2 1512.3 477 1520.4 480 1522C482.8 1523.5 487.6 1523.7 490.3 1522C493.6 1520 494.9 1508.5 497.2 1508.4C499.3 1508.4 501.3 1516.8 503.4 1519.3C504.8 1520.9 505.6 1522.2 507.5 1522.8C510.2 1523.7 516.5 1523.9 519 1522C521.4 1520.2 521 1515.3 522.6 1512.5C524.1 1509.9 525.9 1506.1 528 1505.6C529.9 1505.1 532.1 1508.5 534.3 1508.4C537 1508.2 540.6 1503.1 543.2 1503.2C545.3 1503.3 547.2 1504.9 548.7 1507C551 1510.3 549.6 1520.6 552.8 1522.8C555.7 1524.8 561.7 1523 565.9 1521.4C570.7 1519.6 575.3 1513.3 579.6 1511.8C582.7 1510.7 586.2 1510.4 588.5 1511.4C590.6 1512.3 591.3 1515.6 593.3 1516.6C595.4 1517.6 599.2 1516.2 600.9 1517.3C602.4 1518.2 602.2 1521.7 603.6 1522C605.8 1522.5 611.1 1516.9 614 1514.5C616.3 1512.6 617.6 1509.5 620 1509C622.7 1508.5 626.6 1512.2 629.7 1512.5C632.5 1512.7 635.5 1510.4 638 1511C640.6 1511.6 642.1 1515.9 645 1516C649.8 1516.1 659.5 1503 664 1504C667.4 1504.8 667.7 1513.3 671 1515C674.3 1516.7 679.7 1515.9 684 1514C690 1511.4 696.6 1498.5 702 1497C705.4 1496 708.5 1499.4 711.6 1499C714.8 1498.6 718.6 1494.2 721 1494.5C722.7 1494.7 723.7 1498.2 725 1498C726.8 1497.7 727.7 1490.4 730 1489C731.9 1487.9 734.8 1490 737 1489C739.8 1487.7 741.9 1481.2 744.5 1480C746.3 1479.2 748.2 1481 750 1480C753.2 1478.2 756.1 1466.6 759 1465C760.4 1464.2 761.5 1465.6 763 1465C765.9 1463.9 771 1458.8 774 1455C777 1451.2 777.9 1446.2 781 1442C784.6 1437.1 791.9 1433.3 795 1427.6C798.1 1421.8 798.1 1414.7 799.5 1407.5C801.1 1399.1 802.3 1391.2 804 1380C806.7 1362.4 810.4 1337.7 813.5 1311.8C817.5 1277.9 820.9 1231.9 825 1194C828.8 1158.5 832.8 1119.1 837 1091C839.9 1071.3 841.9 1050.7 846 1041C847.9 1036.5 850.4 1031.8 852.4 1032C854.8 1032.2 857.1 1040.2 859 1047C862.6 1060 863.8 1086.4 866.5 1106C869.2 1125.6 870.9 1147.8 875 1164.7C878.2 1178.1 883 1199.3 887 1200C889 1200.4 890.4 1194.1 893 1192.6C895.7 1191 900.3 1193 903 1191C906.5 1188.5 908.4 1182.8 910.6 1176.5C914.2 1166.4 915.5 1143.9 919 1135C920.8 1130.3 923.2 1129.8 925 1125C928.7 1115.1 931.2 1094.4 934 1076.5C937.4 1054.6 940.5 1027.5 943 1003C945.5 978.5 947.4 951.5 949 929.4C950.3 911.3 950.9 898.3 952 880C953.4 857 955.4 831 956.8 802.4C958.5 767.2 959.6 721.1 961.2 684.7C962.6 653.2 963.8 620.8 965.6 596.5C966.9 579.3 967.8 563.7 970 552.4C971.4 545.1 973.4 534.8 975.3 534.7C976.9 534.6 978.9 540.8 980.3 546.5C983.3 559.2 982.9 590 984.7 611C986.4 631.1 988.5 651.8 990.6 670C992.4 685.8 994.2 701.2 996.5 714C998.3 724 999.6 732.6 1002.4 740.6C1004.9 747.7 1009 759.8 1012 759.7C1014.9 759.6 1016.8 745.8 1020 742C1022.2 739.4 1024.4 738 1027.4 737C1031 735.7 1037.4 738 1040.6 736C1043.6 734.1 1044.6 729.9 1046.5 725.9C1049 720.6 1051 712.1 1053.8 706.8C1056 702.7 1058.8 700.9 1061 696.5C1064.3 689.9 1067.6 679.4 1070 670C1072.7 659.8 1073.6 648.3 1076 637.6C1078.5 626.8 1080.8 614.5 1084.7 605.3C1087.9 597.8 1092.1 588.9 1096.5 586C1099.3 584.2 1102.9 583.6 1105.3 584.7C1107.9 585.9 1108.8 590.5 1111 593.5C1113.6 596.9 1117.7 599.5 1120 603.8C1122.8 609.1 1123.7 615.9 1125.3 623.5C1127.5 633.5 1129.1 647.9 1131.2 658.8C1133 668.3 1135.1 676 1137 685.3C1139.1 695.5 1140.8 708.1 1143 717.6C1144.8 725.3 1146.5 731.7 1148.8 738.2C1151 744.4 1153.6 750.3 1156.2 755.9C1158.6 761.1 1160.4 769.4 1163.5 770.6C1165.7 771.4 1168.7 766.9 1170.9 767.6C1173.7 768.4 1175.9 777.9 1178.2 778C1180.2 778.1 1182.5 773.9 1184 770.6C1186.3 765.6 1186.6 756.4 1188 750C1189.3 744.3 1190.8 733.7 1192 733.8C1193.5 733.9 1194.7 750 1195.9 758.8C1197.2 768.6 1198.5 778.1 1199.5 790C1200.8 805.7 1201.5 826.3 1202.6 844.7C1203.7 863.3 1204.9 884.1 1206.3 901C1207.4 914.9 1208.2 927.2 1210 938.8C1211.5 948.9 1214 957 1215.8 967C1217.8 978.2 1219.1 993.9 1221.4 1002.8C1222.8 1008.4 1224.6 1011.2 1226.1 1016C1227.8 1021.7 1229.1 1029.7 1230.8 1034.7C1232 1038.1 1233.2 1043.2 1234.6 1043.2C1236.3 1043.2 1238.3 1034.9 1240.2 1031C1242 1027.4 1243.6 1022.8 1245.9 1020.6C1247.6 1019 1250 1017.2 1251.5 1017.8C1253.4 1018.5 1254.2 1023.4 1255.3 1027.2C1256.9 1032.7 1256.9 1042.6 1259 1048C1260.5 1051.9 1263.1 1057.4 1265 1057.3C1266.9 1057.2 1268.4 1050.9 1270.3 1048C1272.1 1045.3 1273.9 1040.9 1276 1040.4C1277.7 1040 1279.6 1043.5 1281.6 1043.2C1284.5 1042.7 1287.9 1037 1291 1033.8C1294.2 1030.5 1298.2 1027.8 1300.4 1023.5C1303 1018.4 1303.2 1012 1304.2 1004.6C1305.6 994.2 1306.1 980.8 1307 967C1308 950.1 1309 929.3 1309.8 910.5C1310.6 891.7 1311.1 872.8 1311.7 854C1312.3 835.2 1313 821 1313.6 797.6C1314.6 759.3 1315.1 685.7 1316.5 645.8C1317.4 619.9 1318.4 581.6 1319.8 581.6C1320.9 581.6 1322.1 622.7 1323.7 622.8C1325 622.8 1326.9 608.1 1328 596.4C1330.2 574 1330.3 532.9 1331.3 497.6C1332.5 456.9 1333.4 398.2 1334.6 365.9C1335.3 347.1 1336.1 321.4 1336.9 321.4C1337.7 321.4 1338.7 348.8 1339.5 365.9C1340.6 389.1 1341.5 424.3 1342.8 448.2C1343.8 466.8 1344.6 497.6 1346 497.6C1347.4 497.6 1349.3 466.8 1351 448.2C1353.2 424.3 1354.9 388.9 1357.6 365.9C1359.5 349.3 1361.3 331.8 1364.2 323C1365.6 318.7 1367.3 316.1 1369 314C1370.2 312.6 1371.6 310.8 1372.7 311C1374.2 311.3 1375.6 315.4 1376.7 318.5C1378.3 322.8 1378.9 330.2 1380 335C1380.8 338.8 1381.7 345 1382.5 345C1383.4 345 1384.3 338.4 1385 334C1386.1 327.5 1386.5 318.9 1387.4 309.4C1388.7 296.5 1390.6 278.5 1392 263.5C1393.4 249 1393.8 229.4 1395.8 220.7C1396.7 216.7 1397.9 212.3 1398.9 212.3C1400 212.3 1401.2 217.7 1402 222.2C1403.6 231.2 1403.5 247.6 1404.2 263.5C1405.2 285.1 1406.5 318.2 1407.3 340C1407.9 356.2 1407.9 365.9 1408.7 382.3C1409.8 405.2 1412.3 436 1413.6 464.7C1415.1 496.1 1415.3 541.1 1417 563.5C1417.9 575.2 1418.9 583.7 1420.2 590C1420.9 593.6 1420.7 597.1 1422.6 598.4C1424.7 599.8 1430.3 595.5 1433 597C1436.3 598.8 1437.8 605.7 1439.4 611.4C1441.6 619.1 1441.9 629.6 1443.3 639.8C1444.9 651.7 1446.6 666.4 1448.4 678.6C1450 689.5 1452 698.2 1453.6 709.6C1455.5 723.5 1457.3 740.1 1458.8 756C1460.4 772.8 1461.3 792 1462.7 808C1463.9 821.9 1464.5 837.5 1466.5 846.7C1467.7 852 1469.1 854.9 1470.8 859C1472.6 863.3 1474.9 871.7 1477 871.7C1479.1 871.7 1481.7 863.6 1483.5 859C1485.4 854.1 1486.3 847.1 1488 843C1489.2 840.2 1490.8 836.2 1491.9 836.3C1493.1 836.4 1494.1 841.2 1495 845C1496.5 851.4 1497.3 862.4 1498.3 871.7C1499.4 881.8 1500.3 893.3 1501.4 903.5C1502.4 913 1502.7 924.6 1504.6 931C1505.7 934.7 1506.9 938.9 1508.9 939.4C1511 939.9 1515.1 932.4 1517.3 933C1519.8 933.7 1520.9 941.3 1522.6 945.8C1524.5 950.8 1525.1 959.8 1528 961.6C1529.9 962.8 1533.1 959.9 1535.3 960.6C1537.7 961.4 1539.8 964.4 1541.6 967C1543.8 970.1 1544.7 975.7 1547 978.6C1548.8 981 1551.7 981.9 1553.3 983.9C1554.8 985.8 1555 988.1 1556.5 990.2C1558.3 992.7 1561.8 994.8 1563.9 997.6C1566 1000.4 1567.2 1004.4 1569.1 1007C1570.7 1009.2 1572.6 1012.6 1574.4 1012.4C1576.6 1012.2 1579 1007.3 1580.8 1003C1583.8 995.7 1585 982.6 1587 971.2C1589.3 958.1 1591.2 942.1 1593.5 928.8C1595.5 916.9 1597.8 905.6 1599.8 895C1601.6 885.5 1603.3 876.8 1605 868C1606.6 859.5 1608.1 853.8 1609.7 843C1612.6 823.2 1615.2 785.4 1618.2 758.5C1620.9 733.9 1623.7 710.2 1626.7 688C1629.4 668.1 1632.4 651.5 1635.1 631.6C1638.1 609.4 1640.7 581.5 1643.6 561C1645.9 545.1 1648.4 532.3 1650.6 518.7C1652.6 506 1653.3 489.7 1656.3 482C1657.9 478 1660.3 473.4 1662 473.6C1664.2 473.9 1665.6 484.7 1667.6 490.5C1669.8 496.8 1671.9 504 1674.6 510.3C1677.1 516.2 1680.7 521.5 1683.1 527.2C1685.4 532.7 1687.1 536.9 1688.7 544C1691.3 555.3 1692.6 573.4 1694.4 589.3C1696.4 607.1 1697.8 625.9 1700 645.7C1702.4 667.9 1705 694.1 1708.5 716.2C1711.7 736.1 1716.3 755.1 1719.8 772.6C1722.8 787.7 1725.3 804.2 1728.2 815C1730.1 821.9 1731.5 831.2 1733.9 831.8C1735.5 832.2 1737.9 825.8 1739.5 826.2C1742.1 826.9 1743.5 841.8 1745.2 846C1746 848.1 1746.5 848.8 1747.5 850.6C1749.1 853.4 1752.2 857.4 1753.9 861.2C1755.7 865.1 1756 870.7 1758 873.9C1759.5 876.3 1761.3 878.5 1763.4 879.2C1765.5 879.9 1768.6 877.3 1770.8 878C1773.2 878.8 1775.2 881.7 1777.1 884.4C1779.5 887.8 1781.8 892.4 1783.5 897C1785.4 902.1 1786.1 908.6 1787.7 914C1789.3 919.2 1790.9 924.1 1793 928.9C1795.1 933.6 1797.2 941.4 1800.4 942.6C1802.8 943.5 1806.5 941 1808.9 939.5C1811.1 938.1 1812.2 935.9 1814.2 934.2C1816.4 932.4 1818.9 929.9 1821.6 929C1824.2 928.1 1827.3 929.1 1830 928.5C1832.6 927.9 1835.2 925.1 1837.5 925.7C1840.3 926.5 1842 934.6 1844.9 935.2C1847.7 935.8 1851.8 931.9 1854.4 930C1856.6 928.4 1858 927 1859.7 924.7C1862 921.5 1863.4 916.2 1866 912C1868.9 907.4 1873.2 900.9 1876.6 898.2C1878.8 896.5 1881.1 896.1 1883 895.4C1884.5 894.8 1886 893.6 1887.2 894C1888.6 894.5 1889.4 896.8 1890.4 899.3C1892.2 903.9 1892.9 913.8 1894.6 920.4C1896.1 926.4 1898.1 931.7 1899.9 937.4C1901.7 943 1903.3 949 1905.2 954.3C1906.9 959.1 1908.8 968 1910.5 968C1911.9 968 1913.4 962.6 1914.7 958.5C1916.9 951.5 1918.4 939.9 1920 928.9C1922 915.1 1923.7 896.4 1925.3 882.3C1926.6 870.5 1927.6 861.9 1929 850C1930.7 835.1 1933 816.4 1935 800C1937 784.2 1939.1 774 1941 753.4C1944.8 713.5 1948.1 635.9 1951.7 577.2C1955.2 518.5 1959.1 452.3 1962.3 401C1964.8 361.3 1966.5 321 1969.3 295.2C1970.9 280.2 1972.9 259.8 1974.6 259.8C1976.1 259.8 1977.7 275.3 1979 285C1980.7 297.9 1981.8 312.8 1983.4 330.5C1985.6 355.1 1987.9 389.2 1990.5 418.6C1993.2 448 1994.9 488.7 1999.3 506.7C2001.3 515 2003.5 520.9 2006.3 524.3C2007.9 526.3 2010.1 525.5 2011.6 527.8C2014.9 532.9 2015.1 550.6 2017 559.6C2018.4 566.4 2019.7 577.2 2021.5 577.2C2023.6 577.3 2026.6 560.4 2029.2 552.5C2031.6 545.2 2034 539.7 2036.3 531.4C2039.4 519.8 2042.2 501.7 2045.1 489C2047.5 478.6 2049.8 460.9 2052.2 460.9C2054.5 460.9 2057.1 476.9 2059.2 489C2062.9 510.1 2065.7 546.6 2068 577.2C2070.5 610.1 2071.2 652 2073.5 680C2075.1 699.5 2076 716.5 2078.8 729.4C2080.7 738.1 2083.3 744.3 2085.9 750.6C2088.1 755.9 2090.4 760 2092.9 764.7C2095.5 769.7 2099.1 779.9 2101.4 779.7C2103.4 779.5 2104.5 770.8 2106.1 766.4C2107.6 762.2 2109 758.2 2110.6 754C2112.3 749.7 2114.3 744.9 2115.9 740.9C2117.3 737.4 2118.5 731.1 2119.7 731.2C2121.2 731.3 2122.5 740.9 2123.8 747C2125.5 755 2126.5 768.2 2128.2 775.3C2129.3 779.7 2130 783.6 2131.7 785.8C2132.9 787.3 2134.6 787 2136.1 788.5C2138.6 791 2141.7 801 2143.7 800.8C2145.5 800.6 2146.4 793.3 2147.6 789.4C2148.9 785.4 2149.6 780.5 2151.1 777C2152.3 774.2 2154.2 772.9 2155.5 770C2157.3 765.9 2158.5 758.8 2160 754C2161.2 750.1 2162.2 743.6 2163.5 743.5C2164.6 743.4 2165.9 747.8 2167 750.6C2168.5 754.5 2169.6 761.1 2171.4 764.7C2172.7 767.3 2174.1 770.4 2175.8 770.8C2177.3 771.2 2179.6 767.8 2181.1 768.2C2182.6 768.6 2183.3 771.2 2184.6 773.5C2186.7 777.3 2189.5 783.8 2192 789" stroke="#00ff00"/><path d="M343 1522C346 1522 349 1521.8 352 1522C354.9 1522.2 358.3 1524.2 360.6 1523C363.4 1521.5 364.8 1511.8 366.8 1511.8C368.6 1511.8 369.6 1519.4 372 1521C374.1 1522.4 377.2 1521.7 380 1522C383 1522.3 387 1524.5 389.5 1523C392.7 1521 393.3 1508.1 395.6 1507.7C397.2 1507.4 399.2 1513.9 401 1513.8C402.9 1513.7 404.7 1506.4 406.6 1506.6C409.3 1506.8 412.3 1522.8 415 1522.8C417.7 1522.8 420.6 1506.6 423 1506.6C425 1506.6 426.3 1517.4 428.6 1518C430.4 1518.5 433.1 1513.4 434.8 1513.8C436.7 1514.3 437.5 1522 439 1522C441 1522 443.6 1507.8 445.8 1507.7C447.7 1507.7 449.2 1517.3 451.3 1518C452.6 1518.4 453.9 1515.8 455.4 1516C457.8 1516.3 460.4 1522.3 463.6 1523.5C466.8 1524.7 471.6 1525.2 474.6 1523.5C478.1 1521.5 480.3 1511.8 482.2 1510.8C482.9 1510.5 483.4 1510.6 484 1511C485.3 1511.9 486.3 1518.1 488.2 1518.7C490 1519.3 492.7 1515.2 495 1515.2C497.3 1515.2 499.5 1518.6 502 1518.7C504.8 1518.8 508 1515 511 1515.2C514.3 1515.4 518 1520.8 521.2 1520.7C524.2 1520.6 527 1516 529.5 1515.2C531.2 1514.7 532.8 1514.6 534.3 1515.2C536.2 1516 537.8 1519.4 539.8 1520.7C541.5 1521.8 543.1 1522.7 545.2 1522.8C548.1 1523 552.1 1520 555.5 1520C559 1520 562.6 1523 565.9 1522.8C569 1522.6 571.9 1519.3 574.8 1519.3C577.6 1519.3 579.6 1522.2 583 1522.8C588.2 1523.8 598.4 1523.9 603.6 1522C607.5 1520.6 609.6 1515.2 612.5 1515.2C615.3 1515.2 617.8 1520.4 620.8 1521.4C623.6 1522.3 626.9 1521.6 630 1521.4C633.3 1521.2 636.7 1521.4 640 1520C644 1518.3 648.6 1510.8 652 1511C654.7 1511.2 655.9 1516.9 659 1518C662.6 1519.4 669.1 1518.8 673 1517C676.7 1515.3 678.4 1509.5 682 1508C685.7 1506.5 691.2 1509.8 695 1508C699.4 1506 702.2 1496.5 706 1495C708.6 1494 711.5 1497 714 1496C717.4 1494.7 720 1486.6 723.5 1485C726.2 1483.8 729.1 1486.3 732 1485C736.6 1482.8 741.6 1471.2 746 1468C748.8 1466 752 1466.9 754 1465C756.2 1462.8 755.8 1456.5 758 1455C759.8 1453.8 762.9 1456.3 765 1455C768.5 1452.9 770.8 1443.2 774 1438C776.9 1433.3 780.6 1430 783 1425C785.8 1419.2 787 1411.2 789 1405C790.7 1399.6 792.2 1396.5 794 1390C797.2 1378.4 801.1 1359.8 804.7 1341C809.5 1316 815 1282.4 819.4 1253C823.8 1223.6 827.6 1194.1 831 1164.7C834.4 1135.3 836.6 1102.5 840 1076.5C842.7 1055.7 844.6 1031.3 848.8 1020.6C850.7 1015.8 853.2 1010.9 855.3 1011C857.6 1011.1 860 1018 862 1023.5C865.2 1032.6 866.8 1051.1 869.4 1061.8C871.3 1069.7 872.9 1076 875.3 1082C877.4 1087.1 879.4 1095 882.6 1095.6C885.8 1096.2 891.2 1089.1 894.4 1085C897.6 1080.8 899.4 1076.1 901.8 1070.6C904.8 1063.8 907.8 1055.3 910.6 1047C913.7 1037.8 916.7 1027.4 919.4 1017.6C922.1 1007.8 925.4 996.2 926.8 988C927.7 982.4 926.9 978.8 928 973.5C929.4 966.5 933.6 958.1 935.6 950C937.7 941.5 938.5 932.1 940 923.5C941.4 915.4 943.1 909.9 944.4 900C946.6 883.2 947.8 857.6 949.4 831.8C951.5 797.9 953.3 753.2 955.3 714C957.3 674.8 959.2 634.4 961.2 596.5C963.1 561 964.9 521.7 967 493.5C968.4 473.8 968.9 454.1 971.5 443.5C972.7 438.3 974.4 432.5 976 432.4C977.4 432.3 979.1 436.7 980.3 440.6C982.7 448.5 982.8 467.3 984.7 478.8C986.3 488.5 988.9 496.4 990.6 505.3C992.3 514.1 993.4 523.9 995 531.8C996.3 538.3 997.1 546.1 999.4 549.4C1000.6 551.2 1002.2 552.6 1003.8 552.4C1006.3 552.2 1010.3 547.8 1012.6 543.5C1016.1 536.8 1015.9 524.4 1018.5 514C1021.5 502 1026.3 486.1 1030.3 475.9C1033.1 468.7 1035.7 462 1039 458C1041.3 455.2 1044.4 455.1 1046.5 452.4C1049.2 448.9 1050.1 442.7 1052.4 437.6C1054.9 431.9 1058.5 425.6 1061 420C1063.2 415.1 1064.5 411.2 1066.5 405.9C1069.1 399.1 1072.8 390.3 1075.3 382.4C1077.7 374.6 1079.2 366.4 1081.2 358.8C1083.1 351.7 1084.2 343.4 1087 338.2C1089 334.4 1091.8 330.2 1094.4 329.4C1096.3 328.8 1098.6 329.4 1100.3 331C1103.5 333.9 1105.2 342.8 1107.6 350C1110.7 359.3 1113.6 372.5 1116.5 382.4C1119 390.9 1121.9 396.6 1123.8 405.9C1126.4 418.8 1126.3 438.5 1128.2 453C1129.8 465.6 1132.1 476.2 1134 488.2C1136 500.7 1137.8 514.9 1140 526.5C1141.8 536.2 1144 543.7 1145.9 553C1148 563.2 1149.8 574.5 1151.8 585.3C1153.7 596.1 1156.1 607.1 1157.6 617.6C1159 627.6 1158.2 640.2 1160.6 647C1162.1 651.1 1164.7 652.1 1166.5 655.9C1169.3 661.7 1171.6 671.4 1173.8 679.4C1176 687.6 1175.7 702 1179.7 704.4C1182.3 705.9 1187.6 700.3 1190 701.5C1192.5 702.7 1193.2 707 1194.4 711.8C1196.8 721.3 1197.6 741.6 1198.8 755.9C1199.9 769.3 1200.6 781.2 1201.5 795C1202.5 810.6 1203.4 828.4 1204.5 844.7C1205.6 860.6 1206.3 878.1 1208.2 891.7C1209.7 902.4 1212.2 911.5 1213.9 920C1215.3 926.9 1216.3 931.9 1217.6 938.8C1219.1 947.2 1220.4 958.4 1222.3 967C1223.9 974.5 1224.9 983.5 1228 987.7C1230 990.4 1233.1 992.8 1235.5 992.4C1238.5 991.9 1241 983.9 1244 982C1246.1 980.6 1248.9 979.3 1250.6 980.2C1252.8 981.4 1253.1 987.4 1254.3 991.5C1255.6 996.1 1255.5 1005.3 1258 1006.5C1259.8 1007.4 1263.6 1005 1265.6 1002.8C1268.1 1000 1268.7 993.8 1270.3 989.6C1271.8 985.7 1273 981.5 1275 978.3C1276.8 975.4 1280 973.8 1281.6 970.8C1283.3 967.6 1283.1 962.9 1284.4 959.5C1285.6 956.5 1287.2 951.3 1288.8 951.3C1290.7 951.3 1293 962.1 1295 962C1297.1 961.9 1299.5 953.4 1301 949C1302.5 944.7 1303.2 940.8 1304 936C1305 930.1 1305.7 923.7 1306.4 916C1307.3 905.6 1307.9 890.9 1308.7 879.4C1309.4 869.1 1310.2 860.1 1310.9 850C1311.6 839.2 1312.2 829.1 1312.7 816.5C1313.4 800.1 1314.1 779.5 1314.5 760C1314.9 739.1 1314.3 718.2 1314.8 695C1315.4 668.1 1315.7 620.5 1318.1 608C1318.8 604.5 1319.4 601.5 1320.4 601.4C1321.5 601.3 1323.5 609.9 1324.7 609.6C1328.9 608.7 1328.2 533.8 1329.6 497.6C1330.9 463.6 1331.3 421.2 1333 398.8C1333.9 387.2 1335 372.5 1336.2 372.5C1337.7 372.5 1339.7 400.9 1341.2 415.3C1342.8 430 1344 459.7 1345.5 459.7C1347.2 459.7 1349.2 419.1 1351 398.8C1352.8 378.5 1354.8 356.6 1356.4 338C1357.7 322.2 1358.7 307.3 1359.9 294C1360.9 282.9 1362 273.7 1363 263.5C1364 253.3 1364.9 242.3 1366 233C1366.9 225.2 1367.4 217.3 1369 211.5C1370.2 207.2 1372 200.9 1373.6 200.8C1374.9 200.7 1376.5 204.3 1377.5 207C1379.1 211.1 1379.2 219.4 1380.5 223.7C1381.4 226.6 1382.8 230.7 1383.6 230.6C1385 230.4 1385.1 217.9 1385.9 210C1386.9 199.2 1388 184.5 1389 171.7C1390 159 1391 146 1392 133.5C1393 121.5 1393.2 106.6 1395 98.3C1396 93.5 1397.7 87.3 1398.9 87.3C1400 87.3 1401.2 91.7 1402 95.3C1403.5 102.1 1403.4 114.7 1404.2 125.9C1405.2 139.6 1406.4 155.3 1407.3 171.7C1408.3 190.6 1408.8 214.1 1409.6 233C1410.3 249.4 1411.1 262.4 1411.9 278.8C1412.9 297.7 1414 323.9 1415 340C1415.7 350.5 1416.1 355.9 1417 365.9C1418.2 379.7 1417.6 405.9 1421.9 415.3C1424 419.9 1427.8 421.1 1430.3 424C1432.6 426.7 1435.1 428.8 1436.7 432C1438.5 435.6 1439.1 439.4 1440 445C1441.6 454.6 1442 470.5 1443.3 484.6C1444.8 500.7 1446.5 520.4 1448.4 536.4C1450 550.2 1451.9 562.1 1453.6 575C1455.3 588 1457.3 601 1458.8 614C1460.3 626.9 1461.5 639.2 1462.7 652.7C1464 667.5 1464.9 684.8 1466.5 699.3C1467.9 712.2 1468.7 724.9 1471.7 735.5C1474.2 744.3 1478.6 758.6 1482 758.8C1484.6 759 1487.5 745.7 1489.8 745.8C1491.8 745.9 1493.5 751.5 1495 756.2C1497.7 764.9 1498.7 782.5 1500.2 795C1501.6 806.6 1502.1 820.7 1504 828.6C1505.1 833.1 1506.1 838.7 1508 839C1510.2 839.3 1514.4 827.1 1517 827.3C1519.5 827.5 1521.6 834.4 1523.4 839C1525.6 844.9 1526.6 853.3 1528.3 860C1529.9 866.2 1530.8 872.9 1533.2 878C1535.2 882.2 1538.3 884.9 1540.6 888.7C1543 892.7 1544.7 896.8 1547 901.3C1549.6 906.5 1552.6 913.7 1555.4 918.3C1557.5 921.7 1559.7 923.5 1561.7 926.7C1564 930.4 1565.7 935.4 1568 939.4C1570.2 943.2 1572.9 950.2 1575 950C1577.2 949.8 1579.2 942.3 1580.8 937.3C1582.8 930.8 1583.6 922.1 1585 914C1586.5 905.1 1587.8 894.3 1589.4 886C1590.7 879.2 1592.4 874.1 1593.5 867.5C1594.8 859.9 1595.1 852.2 1596.5 843C1598.3 830.8 1601 813 1604.1 800.8C1606.6 791.2 1610.4 785.2 1612.6 775.4C1615.5 762.6 1616.2 747 1618.2 730.3C1620.8 709.4 1623.7 682 1626.7 659.8C1629.4 639.9 1632.3 622.2 1635.1 603.4C1637.9 584.6 1640.8 564.5 1643.6 547C1646 531.9 1648.4 517.9 1650.6 504.6C1652.6 492.7 1653.9 479.8 1656.3 470.8C1658 464.5 1660 455.4 1662 455.3C1663.8 455.2 1665.8 463.1 1667.6 468C1670 474.4 1671.5 484.5 1674.6 490.5C1677 495.2 1680.9 497 1683.1 501.8C1686.1 508.3 1686.9 518.1 1688.7 527.2C1690.7 537.6 1692.6 549.1 1694.4 561C1696.4 574.3 1698.1 589.3 1700 603.4C1701.9 617.5 1703.6 629.8 1705.6 645.7C1708.2 666.2 1710.7 696.6 1714.1 716.2C1716.6 730.5 1719.2 741.3 1722.6 752.9C1725.8 763.8 1729.4 779.2 1733.9 783.9C1736.1 786.1 1738.9 784.8 1741 786.7C1744 789.4 1745.6 795.3 1748 800.8C1751.2 808 1754.1 818.9 1757.8 826.2C1760.8 832.2 1764 840.7 1767.7 841.7C1770.3 842.4 1773.9 836.7 1776.2 837.5C1778.8 838.4 1780 844.1 1781.8 848.8C1784.6 856.1 1787.2 869.2 1789.9 877.5C1792 884.1 1793.3 890.4 1796.2 895C1798.5 898.7 1801.9 903.5 1804.7 903.5C1807.5 903.5 1810.4 898.1 1813.1 895C1816 891.7 1818.8 887.2 1821.6 884.4C1823.8 882.2 1825.8 879.5 1828 879C1829.7 878.6 1831.7 879.1 1833.2 880.2C1835.3 881.7 1836.2 886.4 1838.5 888.7C1840.8 891 1844.4 894.3 1847 894C1849.7 893.7 1852.1 888.9 1854.4 886.6C1856.3 884.7 1857.8 883.4 1859.7 881.3C1862.2 878.6 1864.8 874.1 1868.1 871.7C1871.2 869.4 1875.4 866.9 1878.7 867C1881.7 867.1 1885 869.7 1887.2 871.7C1889.1 873.5 1890.2 875.3 1891.4 878C1893.2 881.8 1894.2 887.5 1895.7 893C1897.6 899.9 1899.7 909 1902 916.2C1904 922.6 1906 933.9 1908.4 934.2C1910 934.4 1912.2 930 1913.7 926.8C1916 922.1 1917.3 914.2 1919 907.7C1920.8 900.9 1922.7 894 1924.2 886.6C1925.9 878.6 1927.2 869.3 1928.5 861.2C1929.7 853.8 1930.5 848.6 1931.6 840C1933.4 826.6 1935.5 810 1937.6 788.6C1941 753.3 1944.8 697.3 1948.2 647.7C1952 592.3 1955.5 520.7 1958.8 471.5C1961.2 436 1963.9 402.7 1965.5 380C1966.4 366.6 1966.7 358.5 1967.6 348C1968.5 337.8 1969.3 325.4 1971 318C1972 313.5 1973.4 307.5 1974.6 307.5C1975.8 307.5 1977 313.5 1978 318C1979.6 325.4 1980.4 337.8 1981.7 348C1983 358.5 1984.6 368.8 1985.7 380C1986.9 392.3 1987.2 403.8 1988.7 418.6C1990.7 438.6 1994.2 468.1 1997.5 489C2000.2 506 2002.6 526.5 2006.3 534.9C2007.9 538.6 2010 538.7 2011.6 542C2014.4 547.6 2015.6 560.7 2018.7 566.6C2020.7 570.5 2023.6 575.7 2025.7 575.4C2028.4 575.1 2030.5 565.9 2032.8 559.6C2035.9 550.9 2038.6 538.4 2041.6 527.8C2044.7 517.2 2048.4 496 2051.1 496.1C2053.6 496.2 2055.4 512.7 2057.4 524.3C2060.6 542.5 2063.9 573.9 2066.3 594.8C2068.2 611.5 2069.6 625.4 2071 640C2072.3 653.7 2073.1 668 2074.4 680C2075.5 689.8 2076.6 697.7 2077.9 706.5C2079.2 715.3 2080.4 724.1 2082.3 733C2084.2 742.3 2086.1 760.3 2089.4 761.1C2091.4 761.6 2094.1 755.2 2096.4 753.2C2098.2 751.7 2100.3 751.5 2101.7 749.7C2103.6 747.2 2104.2 742.4 2105.3 738.2C2106.6 733.4 2106.5 724.9 2108.8 722.3C2110.2 720.8 2112.5 721.5 2114.1 720.6C2115.7 719.7 2117.3 716.7 2118.5 717C2120.2 717.5 2120.7 723.9 2122 727.6C2123.4 731.6 2124.9 735.9 2126.4 740C2127.9 744.1 2129.4 747.8 2130.8 752.3C2132.4 757.6 2133.5 765.4 2135.3 770C2136.6 773.3 2138.3 778 2139.7 777.9C2141.6 777.7 2143.1 767.4 2145 762.9C2146.6 759 2148.7 756.5 2150.2 752.3C2152.1 746.9 2153.2 739.1 2154.7 733C2156.1 727.4 2157.3 721.5 2159 717C2160.3 713.5 2162.1 708.2 2163.5 708.2C2164.7 708.2 2165.9 712.3 2167 715.3C2168.7 719.8 2169.8 726.5 2171.4 733C2173.3 740.9 2174.2 756.2 2177.6 759.4C2179.1 760.8 2181 759.6 2182.9 760.3C2185.6 761.3 2189 763.8 2192 765.6" stroke="#0000ff"/></g>
<g shape-rendering="crispEdges"><rect x="379" y="113" width="176" height="2" fill="#000000"/><rect x="379" y="210" width="176" height="3" fill="#ff0000"/><rect x="379" y="308" width="176" height="2" fill="#00ff00"/><rect x="379" y="405" width="176" height="3" fill="#0000ff"/></g>
<g font-size="77" font-weight="bold"><text transform="matrix(1 0 0 1.02 575.5 141.2)" fill="#000000">0 h</text><text transform="matrix(1 0 0 1.02 575.5 238.3)" fill="#ff0000">3000 h</text><text transform="matrix(1 0 0 1.02 575.5 335.6)" fill="#00ff00">4900 h</text><text transform="matrix(1 0 0 1.02 575.5 433)" fill="#0000ff">6000 h</text></g>
<text id="an" transform="matrix(1 0 0 1.04 942.1 208.9)" font-size="77" fill="#000">1590 cm<tspan font-size="53" dy="-28.6538">-</tspan><tspan font-size="53" dy="-1.7308">1</tspan></text>
<rect x="1095" y="240" width="11" height="65" fill="#000" shape-rendering="crispEdges"/>
<g fill="#fff" shape-rendering="crispEdges"><g transform="matrix(1 0 0 1.04 293.6 192.3)"><rect x="-66.29" y="-5.61" width="12.04" height="6.81"/><rect x="-48.67" y="-5.61" width="11.55" height="6.81"/></g><g transform="matrix(1 0 0 1.04 713 1621.2)"><rect x="-66.27" y="-5.61" width="12.04" height="6.81"/><rect x="-48.66" y="-5.61" width="11.55" height="6.81"/></g><g transform="matrix(1 0 0 1.04 1083 1621.2)"><rect x="-66.27" y="-5.61" width="12.04" height="6.81"/><rect x="-48.66" y="-5.61" width="11.55" height="6.81"/></g><g transform="matrix(1 0 0 1.04 1453 1621.2)"><rect x="-66.27" y="-5.61" width="12.04" height="6.81"/><rect x="-48.66" y="-5.61" width="11.55" height="6.81"/></g><g transform="matrix(1 0 0 1.04 1823 1621.2)"><rect x="-66.27" y="-5.61" width="12.04" height="6.81"/><rect x="-48.66" y="-5.61" width="11.55" height="6.81"/></g><g transform="matrix(1 0 0 1.04 2193 1621.2)"><rect x="-66.27" y="-5.61" width="12.04" height="6.81"/><rect x="-48.66" y="-5.61" width="11.55" height="6.81"/></g><g transform="matrix(1.0043 0 0 1.04 916.5 1750)"><rect x="649.55" y="-34.67" width="10.29" height="6.06"/><rect x="664.53" y="-34.67" width="9.88" height="6.06"/></g><g transform="matrix(1 0 0 1.04 942.1 208.9)"><rect x="4.87" y="-6.65" width="14.50" height="7.85"/><rect x="26.17" y="-6.65" width="13.90" height="7.85"/></g><g transform="matrix(1 0 0 1.04 942.1 208.9)"><rect x="316.00" y="-35.24" width="10.29" height="6.06"/><rect x="330.97" y="-35.24" width="9.88" height="6.06"/></g></g>
</svg></body></html>
